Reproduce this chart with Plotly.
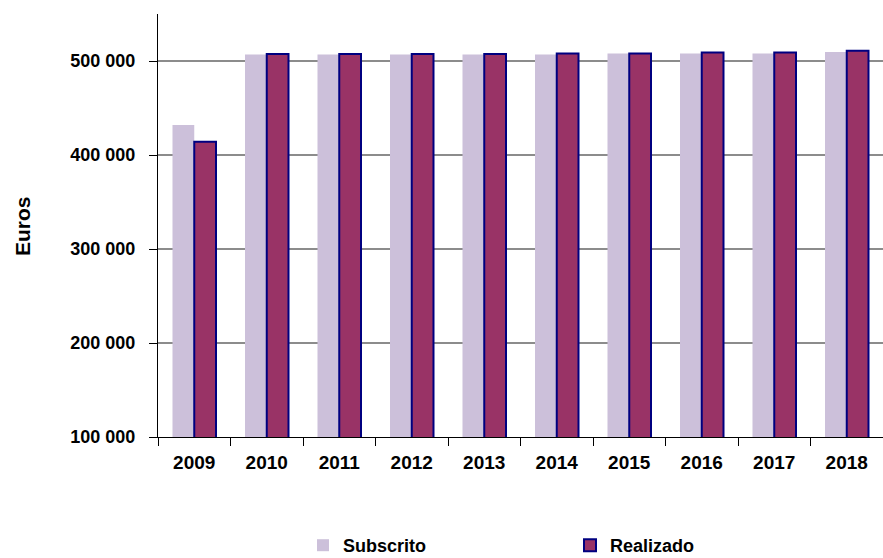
import plotly.graph_objects as go

years = ["2009", "2010", "2011", "2012", "2013", "2014", "2015", "2016", "2017", "2018"]
subscrito = [432000, 507000, 507000, 507000, 507000, 507000, 508000, 508000, 508000, 509500]
realizado = [414000, 507500, 507500, 507500, 507500, 508000, 508000, 509000, 509000, 511000]
ytick_vals = [100000, 200000, 300000, 400000, 500000]
ytick_text = ["100 000", "200 000", "300 000", "400 000", "500 000"]

W, H = 883, 558
L, R, T, B = 158, 0, 14, 121
PW, PH = W - L - R, H - T - B

FAM = "Liberation Sans, Arial, sans-serif"

fig = go.Figure()
fig.add_trace(go.Bar(x=years, y=subscrito, name="Subscrito",
                     marker=dict(color="#CCC0DA", line=dict(width=0))))
fig.add_trace(go.Bar(x=years, y=realizado, name="Realizado",
                     marker=dict(color="#993366", line=dict(color="#000080", width=2))))

fig.update_layout(
    width=W, height=H,
    margin=dict(l=L, r=R, t=T, b=B, autoexpand=False),
    plot_bgcolor="white", paper_bgcolor="white",
    barmode="group", bargap=0.4, bargroupgap=0,
    font=dict(family=FAM, size=17, color="black", weight="bold"),
    showlegend=True,
    legend=dict(orientation="h", x=(303 - L) / PW, xanchor="left",
                y=-(527 - (T + PH)) / PH, yanchor="top",
                entrywidth=222, entrywidthmode="pixels",
                font=dict(family=FAM, size=18, color="black", weight="bold"),
                bgcolor="rgba(0,0,0,0)"),
    xaxis=dict(showline=True, linecolor="black", linewidth=1,
               ticks="outside", tickson="boundaries", ticklen=8, tickcolor="black",
               tickfont=dict(family=FAM, size=19, color="black", weight="bold"),
               ticklabelstandoff=8, showgrid=False),
    yaxis=dict(range=[100000, 550000], showline=True, linecolor="black", linewidth=1,
               ticks="outside", ticklen=8, tickcolor="black",
               tickvals=ytick_vals, ticktext=ytick_text,
               tickfont=dict(family=FAM, size=18, color="black", weight="bold"),
               ticklabelstandoff=10,
               showgrid=True, gridcolor="#8c8c8c", gridwidth=2, zeroline=False),
    annotations=[dict(text="Euros", textangle=-90, xref="paper", yref="paper",
                      x=-(L - 22) / PW, y=(T + PH - 226) / PH, xanchor="center", yanchor="middle",
                      showarrow=False,
                      font=dict(family=FAM, size=21, color="black", weight="bold"))],
)

fig.write_html("out.html")
